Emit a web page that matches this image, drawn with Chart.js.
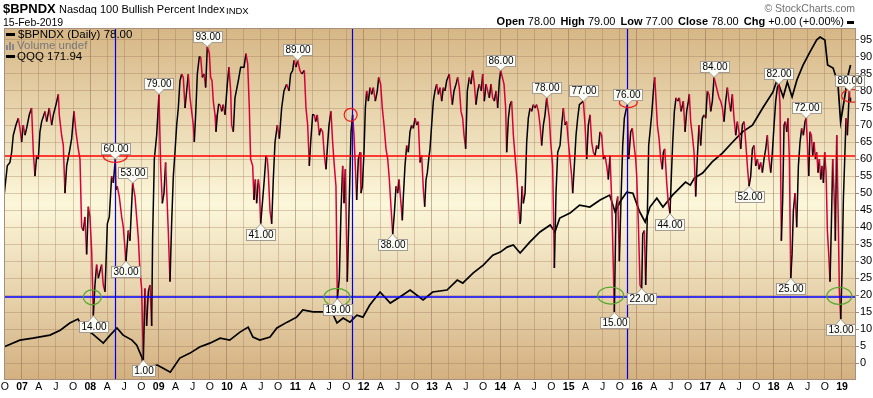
<!DOCTYPE html>
<html><head><meta charset="utf-8">
<script src="https://cdn.jsdelivr.net/npm/chart.js@4.4.1/dist/chart.umd.min.js"></script>
<style>
html,body{margin:0;padding:0;background:#fff;width:873px;height:398px;overflow:hidden}
#wrap{position:relative;width:873px;height:398px;font-family:"Liberation Sans",Arial,sans-serif;color:#000}
#c{position:absolute;left:0;top:0}
.t{position:absolute;white-space:nowrap;line-height:1}
.t b{margin-left:2px}
.dash{display:inline-block;width:7px;height:3px;background:#000;vertical-align:middle;margin-left:3px}
.ldash{position:absolute;width:9px;height:3px;background:#000}
</style></head><body><div id="wrap">
<canvas id="c" width="873" height="398"></canvas>
<div class="t" style="left:3px;top:2px;font-size:13px;font-weight:bold">$BPNDX</div>
<div class="t" style="left:59px;top:4px;font-size:11px">Nasdaq 100 Bullish Percent Index</div>
<div class="t" style="left:226px;top:5.5px;font-size:9.5px">INDX</div>
<div class="t" style="left:3px;top:16.8px;font-size:10.5px">15-Feb-2019</div>
<div class="t" style="right:18px;top:3.4px;font-size:10.5px;color:#707070">© StockCharts.com</div>
<div class="t" style="right:19px;top:16.4px;font-size:11px"><b style="margin-left:0">Open</b> 78.00 <b>High</b> 79.00 <b>Low</b> 77.00 <b>Close</b> 78.00 <b>Chg</b> +0.00 (+0.00%)<span class="dash"></span></div>
<div class="ldash" style="left:6px;top:33px"></div>
<div class="t" style="left:18px;top:28.5px;font-size:11.5px">$BPNDX (Daily) 78.00</div>
<svg style="position:absolute;left:6px;top:42px" width="10" height="8"><rect x="0" y="3" width="2" height="5" fill="#888"/><rect x="3" y="0" width="2" height="8" fill="#888"/><rect x="6" y="2" width="2" height="6" fill="#888"/></svg>
<div class="t" style="left:17px;top:40px;font-size:11.5px;color:#777">Volume undef</div>
<div class="ldash" style="left:6px;top:54.5px"></div>
<div class="t" style="left:17px;top:50.5px;font-size:11.5px">QQQ 171.94</div>
</div>
<script>
// ---------- data (decimal-year dates) ----------
const bpDates = [
2006.737,2006.785,2006.824,2006.849,2006.873,2006.912,2006.946,2006.971,2006.995,2007.019,2007.044,2007.068,2007.107,2007.141,2007.166,2007.190,2007.215,2007.239,2007.263,2007.288,2007.337,2007.361,2007.400,2007.434,2007.459,2007.498,2007.532,2007.546,2007.580,2007.605,2007.629,2007.654,2007.693,2007.727,2007.761,2007.790,2007.824,2007.849,2007.873,2007.898,2007.922,2007.946,2007.971,2007.995,
2008.020,2008.044,2008.068,2008.093,2008.117,2008.141,2008.166,2008.190,2008.215,2008.229,2008.249,2008.278,2008.312,2008.337,2008.366,2008.376,2008.395,2008.424,2008.459,2008.483,2008.522,2008.556,2008.580,2008.620,2008.654,2008.678,2008.702,2008.727,2008.751,2008.776,2008.800,2008.824,2008.849,2008.873,2008.898,2008.912,2008.937,2008.971,
2009.005,2009.029,2009.054,2009.078,2009.102,2009.141,2009.166,2009.190,2009.215,2009.239,2009.264,2009.288,2009.312,2009.337,2009.361,2009.386,2009.410,2009.434,2009.459,2009.483,2009.507,2009.522,2009.546,2009.566,2009.595,2009.615,2009.639,2009.664,2009.688,2009.712,2009.742,2009.761,2009.781,2009.800,2009.825,2009.839,2009.859,2009.878,2009.898,2009.922,2009.946,2009.971,
2010.005,2010.029,2010.054,2010.068,2010.093,2010.117,2010.166,2010.200,2010.249,2010.278,2010.303,2010.327,2010.346,2010.376,2010.395,2010.415,2010.434,2010.459,2010.473,2010.493,2010.522,2010.546,2010.571,2010.590,2010.605,2010.629,2010.654,2010.678,2010.703,2010.737,2010.766,2010.800,2010.834,2010.873,2010.907,2010.932,2010.961,2010.981,
2011.010,2011.034,2011.068,2011.093,2011.132,2011.156,2011.181,2011.205,2011.225,2011.254,2011.278,2011.298,2011.322,2011.351,2011.371,2011.400,2011.425,2011.449,2011.468,2011.493,2011.522,2011.546,2011.571,2011.595,2011.615,2011.644,2011.669,2011.693,2011.713,2011.732,2011.761,2011.790,2011.815,2011.839,2011.859,2011.878,2011.898,2011.922,2011.947,2011.961,2011.981,
2012.005,2012.025,2012.044,2012.069,2012.093,2012.117,2012.142,2012.171,2012.200,2012.220,2012.249,2012.273,2012.298,2012.327,2012.352,2012.376,2012.400,2012.425,2012.449,2012.474,2012.498,2012.517,2012.542,2012.566,2012.581,2012.605,2012.630,2012.654,2012.678,2012.703,2012.727,2012.752,2012.776,2012.800,2012.825,2012.849,2012.874,2012.893,2012.913,2012.932,2012.952,2012.971,2012.995,
2013.020,2013.044,2013.069,2013.093,2013.117,2013.142,2013.166,2013.191,2013.215,2013.254,2013.274,2013.298,2013.322,2013.352,2013.376,2013.400,2013.425,2013.449,2013.469,2013.493,2013.517,2013.547,2013.571,2013.596,2013.620,2013.644,2013.669,2013.693,2013.722,2013.742,2013.766,2013.791,2013.815,2013.839,2013.864,2013.888,2013.913,2013.937,2013.961,2013.986,
2014.005,2014.030,2014.054,2014.078,2014.093,2014.118,2014.142,2014.166,2014.191,2014.215,2014.240,2014.264,2014.288,2014.298,2014.318,2014.337,2014.362,2014.386,2014.410,2014.435,2014.459,2014.483,2014.508,2014.532,2014.557,2014.581,2014.605,2014.630,2014.654,2014.679,2014.718,2014.737,2014.766,2014.791,2014.815,2014.840,2014.874,2014.898,2014.923,2014.947,2014.971,2014.996,
2015.020,2015.044,2015.059,2015.083,2015.108,2015.132,2015.157,2015.215,2015.240,2015.264,2015.288,2015.313,2015.337,2015.362,2015.386,2015.410,2015.435,2015.459,2015.483,2015.508,2015.532,2015.557,2015.581,2015.605,2015.630,2015.654,2015.669,2015.693,2015.718,2015.742,2015.766,2015.791,2015.815,2015.835,2015.859,2015.879,2015.908,2015.932,2015.957,2015.981,2015.996,
2016.020,2016.045,2016.069,2016.084,2016.108,2016.127,2016.152,2016.171,2016.191,2016.215,2016.240,2016.259,2016.274,2016.298,2016.323,2016.347,2016.371,2016.386,2016.406,2016.435,2016.459,2016.483,2016.503,2016.523,2016.547,2016.571,2016.596,2016.620,2016.645,2016.679,2016.703,2016.727,2016.752,2016.766,2016.786,2016.810,2016.835,2016.859,2016.884,2016.908,2016.932,2016.957,2016.981,
2017.006,2017.030,2017.054,2017.079,2017.103,2017.128,2017.152,2017.176,2017.201,2017.225,2017.250,2017.274,2017.298,2017.323,2017.347,2017.371,2017.396,2017.420,2017.445,2017.469,2017.493,2017.518,2017.542,2017.567,2017.591,2017.615,2017.640,2017.664,2017.689,2017.713,2017.737,2017.762,2017.786,2017.810,2017.835,2017.859,2017.884,2017.908,2017.932,2017.957,2017.981,
2018.006,2018.030,2018.054,2018.074,2018.093,2018.113,2018.132,2018.152,2018.171,2018.191,2018.210,2018.230,2018.250,2018.269,2018.289,2018.313,2018.337,2018.362,2018.386,2018.410,2018.435,2018.459,2018.474,2018.493,2018.513,2018.532,2018.552,2018.571,2018.591,2018.611,2018.630,2018.650,2018.669,2018.689,2018.708,2018.728,2018.747,2018.767,2018.786,2018.806,2018.825,2018.845,2018.864,2018.884,2018.903,2018.923,2018.942,2018.962,2018.981,
2019.001,2019.020,2019.040,2019.059,2019.079,2019.098,2019.108,2019.118,2019.125];
const bpValues = [
49,58,59,62,67,70,72,69,65,70,67,69,73,75,62,55,61,60,68,71,74,71,75,70,73,76,79,73,67,64,50,58,62,66,74,68,63,60,40,39,43,32,46,43,
33,14,23,29,25,27,29,23,21,29,41,43,55,53,60,51,52,49,43,40,30,39,36,53,49,43,37,27,22,1,22,11,21,23,11,37,60,67,
79,58,47,50,59,39,24,41,55,62,70,75,83,85,84,75,80,85,78,74,70,65,75,85,90,90,84,85,81,93,91,84,83,77,73,68,73,76,76,74,76,73,
82,87,80,70,68,78,83,87,87,91,88,75,60,58,48,54,47,54,52,41,48,54,61,60,56,45,41,54,65,70,66,75,80,82,80,85,86,89,
87,89,86,85,86,75,70,58,65,73,73,71,73,67,69,68,61,57,63,70,74,65,58,52,19,25,45,58,47,57,24,48,68,73,67,58,48,60,62,50,52,
62,75,80,77,81,79,81,77,80,84,82,75,70,63,60,54,46,38,44,52,50,54,48,42,49,58,64,62,68,70,69,72,70,71,59,61,51,46,54,56,60,63,70,
77,80,82,79,81,77,81,80,83,85,80,76,80,82,84,81,74,72,67,63,80,84,82,86,82,76,80,82,80,85,77,82,80,78,82,78,77,80,75,83,
86,84,82,75,62,72,76,77,67,61,55,48,41,42,52,47,50,65,72,75,74,76,75,76,74,70,64,70,73,78,72,65,58,28,50,62,64,70,75,70,71,65,
60,55,50,58,67,72,76,77,70,60,70,73,65,62,61,64,63,68,67,60,61,58,54,61,48,28,15,46,49,30,48,64,72,74,76,60,68,69,64,60,55,
41,23,22,38,39,23,44,64,68,73,80,84,79,70,66,60,57,62,63,53,47,44,55,65,74,78,77,78,74,77,68,74,77,79,71,67,62,49,61,70,64,72,73,
72,80,79,74,77,84,82,80,78,77,75,71,77,81,77,74,79,72,67,71,68,63,70,71,65,58,52,55,63,64,58,60,57,59,56,60,63,67,60,56,62,
70,77,81,82,76,36,48,70,71,68,72,60,25,32,45,50,40,58,65,69,67,71,72,65,55,68,67,61,65,60,62,56,60,54,58,53,62,56,39,32,24,41,60,50,36,67,46,21,13,
27,48,60,72,67,76,80,77,78];

const qqqDates = [2006.74,2006.97,2007.16,2007.41,2007.56,2007.70,2007.82,2007.89,2008.02,2008.19,2008.29,2008.39,2008.48,2008.61,2008.68,2008.76,2008.78,2008.84,2008.98,2009.06,2009.17,2009.31,2009.46,2009.60,2009.75,2009.90,2010.04,2010.19,2010.31,2010.38,2010.48,2010.63,2010.73,2010.88,2011.02,2011.11,2011.26,2011.41,2011.51,2011.61,2011.70,2011.80,2011.90,2011.99,2012.09,2012.24,2012.39,2012.53,2012.68,2012.87,2013.01,2013.22,2013.37,2013.45,2013.60,2013.75,2013.89,2014.00,2014.10,2014.19,2014.29,2014.43,2014.58,2014.73,2014.80,2014.87,2015.02,2015.16,2015.31,2015.46,2015.60,2015.68,2015.75,2015.85,2015.94,2016.04,2016.12,2016.19,2016.29,2016.38,2016.52,2016.71,2016.78,2016.84,2016.96,2017.10,2017.25,2017.40,2017.54,2017.69,2017.84,2017.99,2018.05,2018.14,2018.20,2018.27,2018.34,2018.43,2018.53,2018.63,2018.68,2018.75,2018.79,2018.87,2018.94,2018.98,2019.04,2019.09,2019.125];
const qqqValues = [41.9,45.0,45.9,47.3,49.6,52.9,54.7,51.0,48.2,43.6,47.3,50.6,47.3,45.0,42.7,36.7,30.2,32.5,33.5,32.1,30.2,36.7,39.0,41.8,43.6,45.9,45.0,48.7,51.0,46.4,45.0,46.4,50.6,53.3,55.6,58.9,58.0,58.0,59.8,52.9,55.2,53.3,56.5,55.6,61.2,67.2,62.1,64.9,68.1,63.5,67.2,68.1,72.7,71.3,75.9,79.6,84.2,85.6,87.9,88.9,85.2,90.2,94.9,98.1,94.9,101.3,103.6,107.3,106.4,109.6,111.9,104.1,108.7,113.3,112.8,104.1,99.5,106.4,110.5,106.4,111.9,117.9,116.5,119.8,122.1,127.2,131.3,136.4,141.0,144.2,152.1,159.5,165.0,157.2,164.1,157.2,165.0,171.9,177.9,183.5,184.8,183.5,171.9,170.5,163.6,145.6,157.2,167.3,171.94];

// tick labels
const yTickValues = [0,5,10,15,20,25,30,35,40,45,50,55,60,65,70,75,80,85,90,95];
const quarterLetters = ['', 'A', 'J', 'O'];
const quarterDayOffsets = [0,90,181,273];

// callouts
const peakDates  = [2008.366,2008.620,2009.005,2009.712,2011.034,2014.005,2014.679,2015.215,2015.859,2017.128,2018.074,2018.474,2019.108];
const peakValues = [60,53,79,93,89,86,78,77,76,84,82,72,80];
const troughDates  = [2008.044,2008.522,2008.776,2010.493,2011.615,2012.425,2015.669,2016.069,2016.483,2017.640,2018.250,2018.981];
const troughValues = [14,30,1,41,19,38,15,22,44,52,25,13];

// reference lines & marks
const refLevels = [60.8, 19.5];
const refColors = ['#ff0000', '#0000ff'];
const markerDates = [2008.368, 2011.834, 2015.858];
const greenDates = [2008.029, 2011.610, 2015.615, 2018.961];
const greenLevels = [19.4, 19.4, 19.9, 19.8];
const greenRadii = [[9,7.5],[13,9],[13,8.5],[12.5,8.5]];
const redDates = [2008.365, 2011.810, 2015.873, 2019.140];
const redLevels = [60.9, 73.0, 76.6, 78.6];
const redRadii = [[12,6.5],[6.5,6.5],[9,5],[10,6.5]];

// ---------- chart ----------
const XMIN = 2006.737, XMAX = 2019.205;
const RED = '#d8003a';
const isJan = v => Math.abs(v - Math.round(v)) < 1e-6;
const quarterTicks = [];
for (let y = 2006; y <= 2019; y++) {
  for (let q = 0; q < 4; q++) {
    const v = q === 0 ? y : y + quarterDayOffsets[q] / 365;
    if (v >= XMIN - 1e-9 && v <= XMAX) quarterTicks.push({value: v, q: q, yr: y});
  }
}

const bgPlugin = {
  id: 'bg',
  beforeDraw(chart) {
    const {ctx, chartArea: {left, top, right, bottom}} = chart;
    const g = ctx.createLinearGradient(0, top, 0, bottom);
    g.addColorStop(0, '#d6b685');
    g.addColorStop(0.5, '#fcf7da');
    g.addColorStop(1, '#d3b080');
    ctx.save(); ctx.fillStyle = g; ctx.fillRect(left, top, right - left, bottom - top); ctx.restore();
  }
};

function callout(ctx, x, y, text, above) {
  ctx.font = '10px "Liberation Sans", Arial, sans-serif';
  const w = Math.round(ctx.measureText(text).width) + 4, h = 11, tri = 5;
  const bx = Math.round(x - w / 2) + 0.5;
  const by = Math.round(above ? y - tri - h : y + tri) + 0.5;
  ctx.fillStyle = '#fbfbf6';
  ctx.strokeStyle = '#a49c90';
  ctx.lineWidth = 1;
  ctx.fillRect(bx, by, w, h);
  ctx.strokeRect(bx, by, w, h);
  ctx.beginPath();
  const baseY = above ? by + h : by;
  ctx.moveTo(x - 5, baseY); ctx.lineTo(x, y); ctx.lineTo(x + 5, baseY);
  ctx.fillStyle = '#fbfbf6'; ctx.fill(); ctx.stroke();
  ctx.fillRect(x - 4, above ? baseY - 1.5 : baseY - 0.5, 8, 2);
  ctx.fillStyle = '#000';
  ctx.textAlign = 'center'; ctx.textBaseline = 'middle';
  ctx.fillText(text, bx + w / 2, by + h / 2 + 0.5);
}

const annoPlugin = {
  id: 'anno',
  afterDatasetsDraw(chart) {
    const {ctx, chartArea: a, scales: {x, y}} = chart;
    ctx.save();
    ctx.beginPath(); ctx.rect(a.left, a.top, a.right - a.left, a.bottom - a.top); ctx.clip();
    ctx.lineWidth = 1.6;
    refLevels.forEach((lv, i) => {
      const py = Math.round(y.getPixelForValue(lv));
      ctx.strokeStyle = refColors[i];
      ctx.beginPath(); ctx.moveTo(a.left, py); ctx.lineTo(a.right, py); ctx.stroke();
    });
    ctx.lineWidth = 1.2;
    ctx.strokeStyle = '#0000e0';
    markerDates.forEach(d => {
      const px = Math.round(x.getPixelForValue(d)) + 0.5;
      ctx.beginPath(); ctx.moveTo(px, a.top); ctx.lineTo(px, a.bottom); ctx.stroke();
    });
    ctx.lineWidth = 1.2;
    ctx.strokeStyle = '#4fa82a';
    greenDates.forEach((d, i) => {
      ctx.beginPath();
      ctx.ellipse(x.getPixelForValue(d), y.getPixelForValue(greenLevels[i]), greenRadii[i][0], greenRadii[i][1], 0, 0, Math.PI * 2);
      ctx.stroke();
    });
    ctx.strokeStyle = '#f01818';
    redDates.forEach((d, i) => {
      ctx.beginPath();
      ctx.ellipse(x.getPixelForValue(d), y.getPixelForValue(redLevels[i]), redRadii[i][0], redRadii[i][1], 0, 0, Math.PI * 2);
      ctx.stroke();
    });
    ctx.restore();
    ctx.save();
    peakDates.forEach((d, i) => callout(ctx, x.getPixelForValue(d), y.getPixelForValue(peakValues[i]), peakValues[i].toFixed(2), true));
    troughDates.forEach((d, i) => callout(ctx, x.getPixelForValue(d), y.getPixelForValue(troughValues[i]), troughValues[i].toFixed(2), false));
    ctx.strokeStyle = '#a88e7c'; ctx.lineWidth = 1;
    ctx.strokeRect(a.left + 0.5, a.top + 0.5, a.right - a.left - 1, a.bottom - a.top - 1);
    ctx.restore();
  }
};

new Chart(document.getElementById('c'), {
  type: 'line',
  data: {
    datasets: [
      {
        label: '$BPNDX', yAxisID: 'y', order: 0,
        data: bpDates.map((d, i) => ({x: d, y: bpValues[i]})),
        borderColor: '#000', borderWidth: 1.5, pointRadius: 0, tension: 0,
        segment: { borderColor: c => c.p1.parsed.y < c.p0.parsed.y ? RED : '#000' }
      },
      {
        label: 'QQQ', yAxisID: 'y2', order: 1,
        data: qqqDates.map((d, i) => ({x: d, y: qqqValues[i]})),
        borderColor: '#000', borderWidth: 1.7, pointRadius: 0, tension: 0
      }
    ]
  },
  options: {
    responsive: false, animation: false,
    layout: { padding: { left: 4, top: 28, right: 0, bottom: 0 } },
    plugins: { legend: { display: false }, tooltip: { enabled: false } },
    scales: {
      x: {
        type: 'linear', min: XMIN, max: XMAX, position: 'bottom',
        afterBuildTicks: s => { s.ticks = quarterTicks.map(t => ({value: t.value})); },
        afterFit: s => { s.height = 18; s.paddingLeft = 0; s.paddingRight = 0; },
        ticks: {
          autoSkip: false, maxRotation: 0, minRotation: 0, padding: 1, color: '#000',
          font: c => ({ family: '"Liberation Sans", Arial, sans-serif', size: 10.5, weight: (c.tick && isJan(c.tick.value)) ? 'bold' : 'normal' }),
          callback: v => {
            const t = quarterTicks.find(q => Math.abs(q.value - v) < 1e-6);
            if (!t) return '';
            return t.q === 0 ? String(t.yr % 100).padStart(2, '0') : quarterLetters[t.q];
          }
        },
        grid: { drawTicks: false, color: c => (c.tick && isJan(c.tick.value)) ? 'rgba(135,95,70,0.45)' : 'rgba(150,110,80,0.32)' },
        border: { display: false }
      },
      y: {
        position: 'right', min: -4.9, max: 98.5,
        afterBuildTicks: s => { s.ticks = yTickValues.map(v => ({value: v})); },
        afterFit: s => { s.width = 17; s.paddingTop = 0; s.paddingBottom = 0; },
        ticks: { padding: 1, color: '#000', font: { family: '"Liberation Sans", Arial, sans-serif', size: 11 } },
        grid: { color: 'rgba(150,110,80,0.32)', tickLength: 3, tickColor: '#a08878' },
        border: { display: false }
      },
      y2: { display: false, min: 26.6, max: 189 }
    }
  },
  plugins: [bgPlugin, annoPlugin]
});
</script>
</body></html>
